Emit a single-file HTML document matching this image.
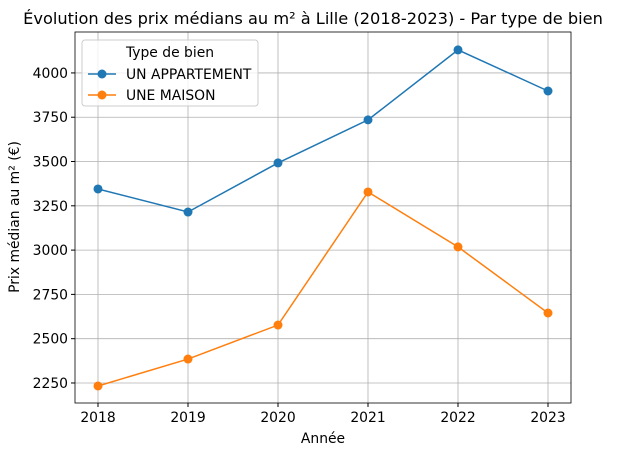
<!DOCTYPE html>
<html><head><meta charset="utf-8"><style>
body{margin:0;background:#fff;font-family:"Liberation Sans","DejaVu Sans",sans-serif}
text{font-family:"DejaVu Sans","Liberation Sans",sans-serif}
</style></head><body>
<svg id="chart" width="631" height="456" xmlns="http://www.w3.org/2000/svg"></svg>
<script>
const years = [2018, 2019, 2020, 2021, 2022, 2023];
const appartement = [3345, 3215, 3492, 3735, 4130, 3898];
const maison = [2233, 2385, 2577, 3328, 3018, 2645];
const yTicks = [2250, 2500, 2750, 3000, 3250, 3500, 3750, 4000];
const seriesNames = ["UN APPARTEMENT", "UNE MAISON"];

const svg = document.getElementById('chart');
const NS = 'http://www.w3.org/2000/svg';
const L = 75, R = 571, T = 32, B = 403;
const yMin = 2137, yMax = 4231;
const FS = 13.9;
const xs = v => 98 + (v - 2018) * 90;
const ys = v => B - (v - yMin) / (yMax - yMin) * (B - T);
function mk(tag, attrs, parent) {
  const e = document.createElementNS(NS, tag);
  for (const k in attrs) e.setAttribute(k, attrs[k]);
  (parent || svg).appendChild(e);
  return e;
}
const grid = mk('g', {});


years.forEach(y => mk('line', {x1: xs(y), x2: xs(y), y1: T, y2: B, stroke: '#b0b0b0', 'stroke-width': 0.8}, grid));
yTicks.forEach(v => mk('line', {x1: L, x2: R, y1: ys(v), y2: ys(v), stroke: '#b0b0b0', 'stroke-width': 0.8}, grid));
const xa = mk('g', {});


years.forEach(y => {
  mk('line', {x1: xs(y), x2: xs(y), y1: B, y2: B + 4, stroke: '#000'}, xa);
  const t = mk('text', {x: xs(y), y: B + 19, 'text-anchor': 'middle', 'font-size': FS}, xa);
  t.textContent = y;
});
const ya = mk('g', {});


yTicks.forEach(v => {
  mk('line', {x1: L - 4, x2: L, y1: ys(v), y2: ys(v), stroke: '#000'}, ya);
  const t = mk('text', {x: L - 7, y: ys(v) + 5, 'text-anchor': 'end', 'font-size': FS}, ya);
  t.textContent = v;
});
const colors = ['#1f77b4', '#ff7f0e'];
[appartement, maison].forEach((data, i) => {
  const g = mk('g', {});
  
  
  mk('polyline', {points: data.map((v, j) => xs(years[j]) + ',' + ys(v)).join(' '), fill: 'none', stroke: colors[i], 'stroke-width': 1.5}, g);
  data.forEach((v, j) => {
    const c = mk('circle', {cx: xs(years[j]), cy: ys(v), r: 4.5, fill: colors[i]}, g);
    
    
  });
});
const fr = mk('rect', {x: L, y: T, width: R - L, height: B - T, fill: 'none', stroke: '#000', 'stroke-width': 0.8});


const title = mk('text', {x: 313, y: 24, 'text-anchor': 'middle', 'font-size': 16.2});


title.textContent = 'Évolution des prix médians au m² à Lille (2018-2023) - Par type de bien';
const xt = mk('text', {x: 323, y: 443, 'text-anchor': 'middle', 'font-size': FS});


xt.textContent = 'Année';
const yt = mk('text', {x: 19, y: 217, 'text-anchor': 'middle', 'font-size': FS, transform: 'rotate(-90 19 217)'});


yt.textContent = 'Prix médian au m² (€)';
const lg = mk('g', {});


mk('rect', {x: 82, y: 40, width: 176, height: 66, rx: 3, fill: '#fff', 'fill-opacity': 0.8, stroke: '#ccc'}, lg);
const lt = mk('text', {x: 170, y: 57, 'text-anchor': 'middle', 'font-size': FS}, lg);
lt.textContent = 'Type de bien';
seriesNames.forEach((n, i) => {
  const y = 74 + i * 21;
  const e = mk('g', {}, lg);
  
  
  mk('line', {x1: 88, x2: 116, y1: y, y2: y, stroke: colors[i], 'stroke-width': 1.5}, e);
  mk('circle', {cx: 102, cy: y, r: 4.5, fill: colors[i]}, e);
  const t = mk('text', {x: 126, y: y + 5, 'font-size': FS}, e);
  t.textContent = n;
});
</script>
</body></html>
